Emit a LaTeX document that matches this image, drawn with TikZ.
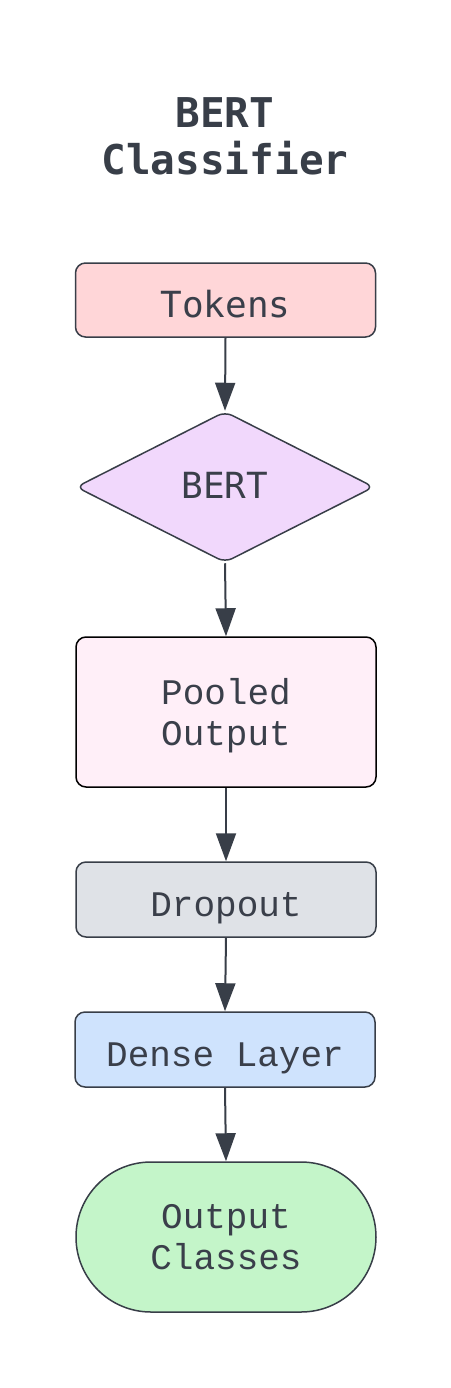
\documentclass[tikz,border=0pt]{standalone}
\usepackage{fontspec}
\setmonofont{Liberation Mono}
\newfontfamily\djmono{DejaVu Sans Mono}
\usetikzlibrary{shapes.geometric,arrows.meta}
\definecolor{ink}{HTML}{383E48}
\definecolor{txt}{HTML}{3A3F4A}
\definecolor{ctok}{HTML}{FFD6D8}
\definecolor{cbert}{HTML}{F1D8FC}
\definecolor{cpool}{HTML}{FFEFF8}
\definecolor{cdrop}{HTML}{DFE2E7}
\definecolor{cdense}{HTML}{CFE3FD}
\definecolor{cout}{HTML}{C4F5C9}
\tikzset{
  box/.style={draw=ink, line width=1.5pt, rounded corners=10pt, minimum width=300pt,
    text=txt, align=center, inner sep=0pt, font=\ttfamily\fontsize{36}{41.5}\selectfont},
  oneline/.style={text height=34pt, text depth=0pt},
  flow/.style={draw=ink, line width=2pt, -{Triangle[length=28pt,width=20pt]}}
}
\begin{document}
\begin{tikzpicture}[x=1pt,y=-1pt]
\useasboundingbox[fill=white] (0,0) rectangle (450,1388);
\node[text=ink, align=center, font=\djmono\bfseries\fontsize{41}{47}\selectfont] (title) at (225,136) {BERT\\Classifier};
\node[box, oneline, fill=ctok, minimum height=74pt, font=\djmono\fontsize{36}{43}\selectfont] (tok) at (225.5,300) {Tokens};
\node[diamond, draw=ink, line width=1.5pt, rounded corners=8pt, fill=cbert, text=txt,
  minimum width=298pt, minimum height=151pt, inner sep=0pt, aspect=1.97,
  text height=22pt, text depth=0pt,
  font=\djmono\fontsize{36}{43}\selectfont] (bert) at (225,487) {BERT};
\node[box, fill=cpool, minimum height=150pt, draw=black, text depth=0pt] (pool) at (226,712) {Pooled\\Output};
\node[box, oneline, fill=cdrop, minimum height=75pt] (drop) at (226,899.5) {Dropout};
\node[box, oneline, fill=cdense, minimum height=75pt] (dense) at (225,1049.5) {Dense Layer};
\node[box, fill=cout, minimum height=150pt, rounded corners=75pt, text depth=0pt] (out) at (226,1237) {Output\\Classes};
\draw[flow] (tok.south) -- (bert.north);
\draw[flow] (bert.south) -- (pool.north);
\draw[flow] (pool.south) -- (drop.north);
\draw[flow] (drop.south) -- (dense.north);
\draw[flow] (dense.south) -- (out.north);
\end{tikzpicture}
\end{document}
